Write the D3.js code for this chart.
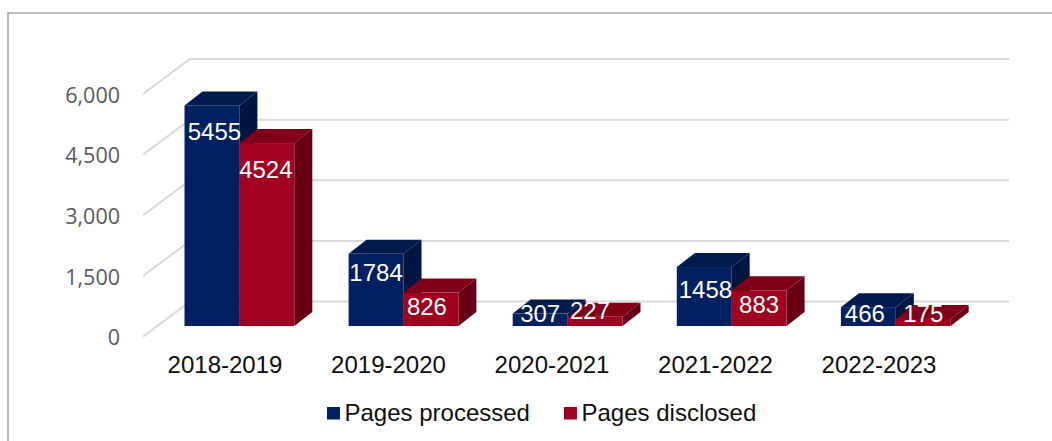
<!DOCTYPE html>
<html><head><meta charset="utf-8">
<script src="https://cdn.jsdelivr.net/npm/d3@7"></script>
<style>html,body{margin:0;padding:0;background:#fff}svg{display:block}text{font-family:"Liberation Sans",Arial,sans-serif}</style>
</head><body><div id="c"></div>
<script>
const categories=["2018-2019","2019-2020","2020-2021","2021-2022","2022-2023"];
const pagesProcessed=[5455,1784,307,1458,466];
const pagesDisclosed=[4524,826,227,883,175];
const seriesNames=["Pages processed","Pages disclosed"];
const yTicks=[0,1500,3000,4500,6000];

const W=1052,H=441;
const svg=d3.select("#c").append("svg").attr("width",W).attr("height",H);
const colors=[{f:"#002060",t:"#001a4d",s:"#001640"},{f:"#a20020",t:"#7f0018",s:"#660012"}];
const baseY=326, wallDx=47, wallDy=-35, depthDx=18, depthDy=-14;
const y=d3.scaleLinear().domain([0,6000]).range([336.6,94]);
const x0=d3.scaleBand().domain(categories).range([157.35,977.85]).paddingInner(0.331).paddingOuter(0.1655);
const x1=d3.scaleBand().domain([0,1]).range([0,x0.bandwidth()]);
const xLabel=d3.scalePoint().domain(categories).range([225,879]);
const h=v=>y(0)-y(v);
// hand-placed data label nudges (layout only): [dx from bar centre, baseline below bar top]
const labelNudge=[[[2.5,35],[-1,35]],[[0,27],[-4,22.5]],[[0,8.4],[-5,2.2]],[[1.2,31],[0,22.7]],[[-3.5,14.5],[0,2.8]]];

svg.append("path").attr("d",`M8,441V13H1052`).attr("fill","none").attr("stroke","#a6a6a6").attr("stroke-width",1.6);

const grid=svg.append("g").attr("fill","none").attr("stroke","#d9d9d9").attr("stroke-width",2);
grid.selectAll("path").data(yTicks).join("path")
 .attr("d",t=>`M143,${y(t)}L${143+wallDx},${y(t)+wallDy}H1009`);

svg.append("g").selectAll("text").data(yTicks).join("text")
 .attr("x",120).attr("y",t=>y(t)+1).attr("dy","0.36em").attr("text-anchor","end")
 .style("font-family","'Open Sans'").attr("font-size",21.5).attr("fill","#595959").text(d3.format(","));

const rows=[];
categories.forEach((c,i)=>{rows.push({c,i,s:0,v:pagesProcessed[i]});rows.push({c,i,s:1,v:pagesDisclosed[i]});});
const bars=svg.append("g").selectAll("g").data(rows).join("g");
bars.each(function(d){
 const g=d3.select(this),l=x0(d.c)+x1(d.s),w=x1.bandwidth(),b=baseY,t=baseY-h(d.v),c=colors[d.s];
 g.append("path").attr("fill",c.s).attr("d",`M${l+w},${b}V${t}l${depthDx},${depthDy}V${b+depthDy}Z`);
 g.append("path").attr("fill",c.t).attr("d",`M${l},${t}l${depthDx},${depthDy}H${l+w+depthDx}l${-depthDx},${-depthDy}Z`);
 g.append("rect").attr("x",l).attr("y",t).attr("width",w).attr("height",b-t).attr("fill",c.f);
});
svg.append("g").selectAll("text").data(rows).join("text")
 .attr("x",d=>x0(d.c)+x1(d.s)+x1.bandwidth()/2+labelNudge[d.i][d.s][0])
 .attr("y",d=>baseY-h(d.v)+labelNudge[d.i][d.s][1])
 .attr("text-anchor","middle").attr("font-size",24).attr("fill","#fff").text(d=>d.v);

svg.append("g").selectAll("text").data(categories).join("text")
 .attr("x",c=>xLabel(c)).attr("y",373)
 .attr("text-anchor","middle").attr("font-size",24).attr("fill","#0d0d0d").text(c=>c);

const lx=[327,564];
const lg=svg.append("g").selectAll("g").data(seriesNames).join("g");
lg.append("rect").attr("x",(d,i)=>lx[i]).attr("y",407).attr("width",13).attr("height",12.5).attr("fill",(d,i)=>colors[i].f);
lg.append("text").attr("x",(d,i)=>lx[i]+17.5).attr("y",421).attr("font-size",24).attr("fill","#0d0d0d").text(d=>d);
</script></body></html>
